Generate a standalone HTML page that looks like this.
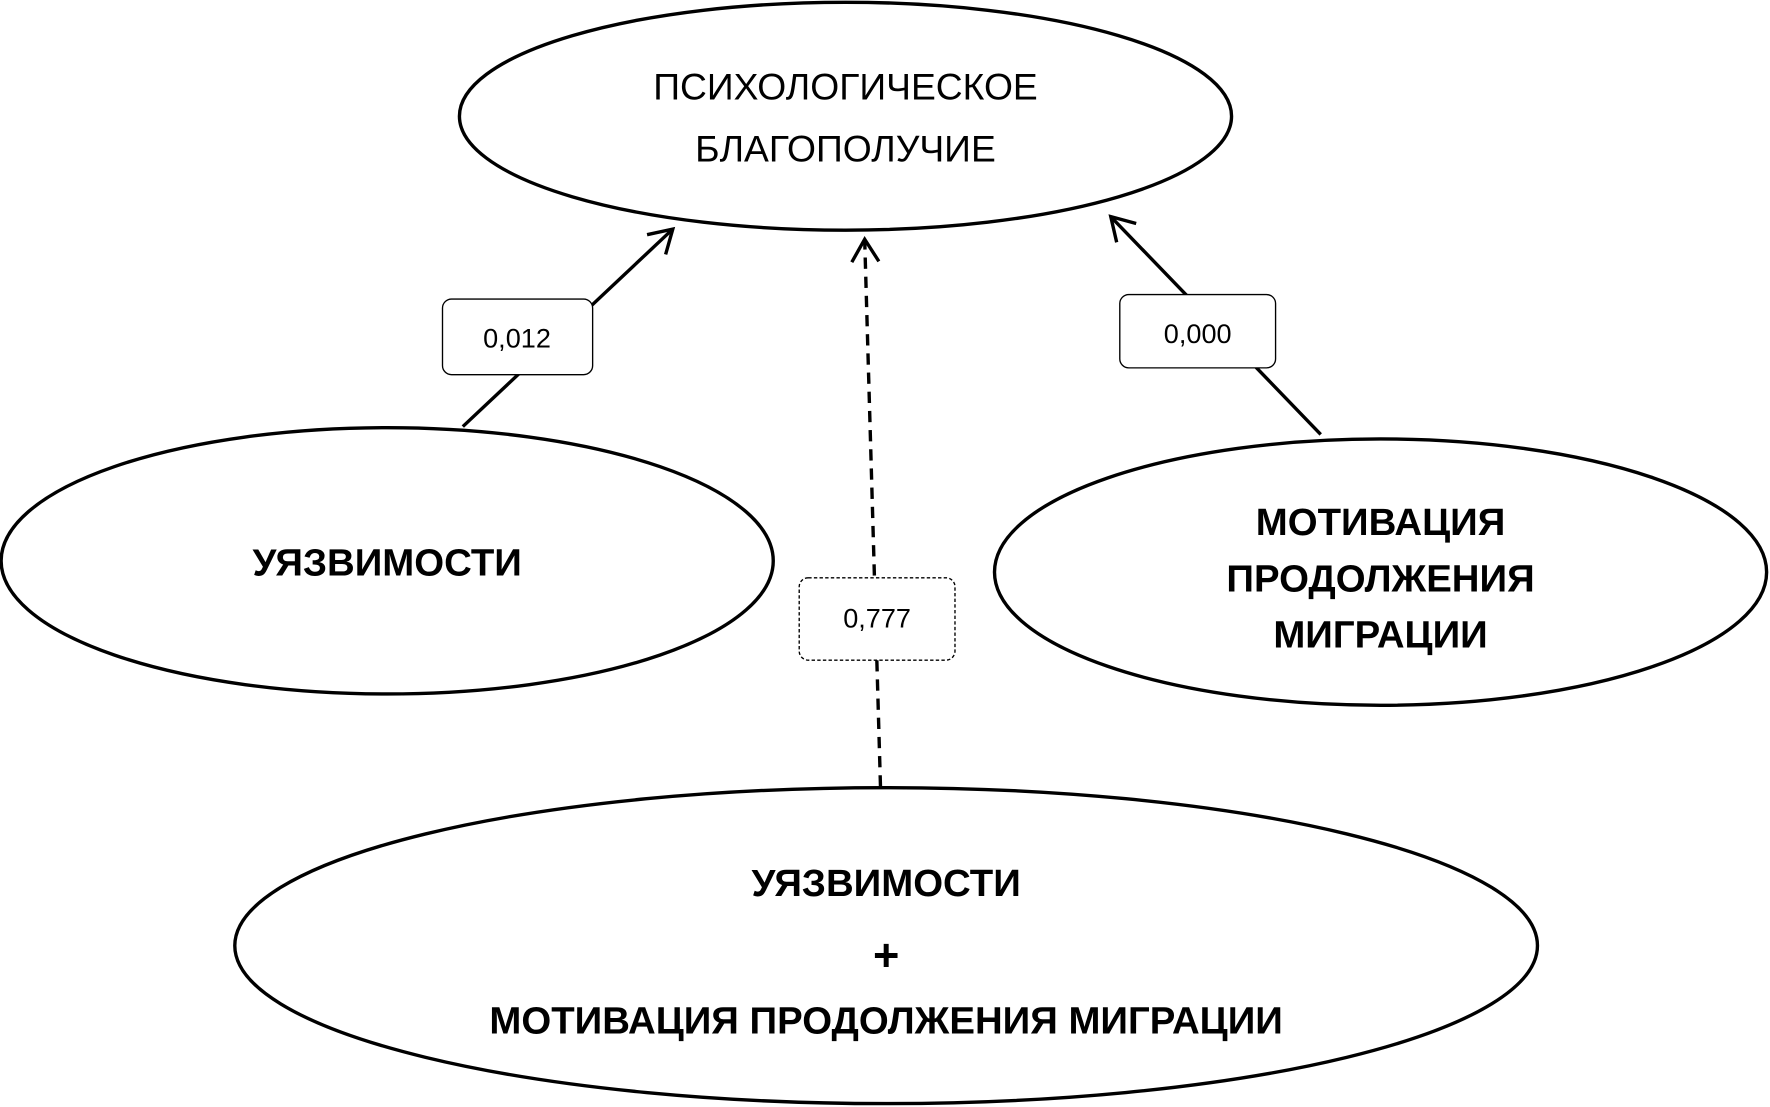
<!DOCTYPE html>
<html><head><meta charset="utf-8"><style>
html,body{margin:0;padding:0;background:#fff;}
svg{display:block;}
text{font-family:"Liberation Sans","DejaVu Sans",sans-serif;fill:#000;}
</style></head><body>
<svg width="1770" height="1107" viewBox="0 0 1568 981" preserveAspectRatio="none" xmlns="http://www.w3.org/2000/svg">
<defs>
<marker id="a" markerWidth="30" markerHeight="30" refX="22" refY="15" orient="auto" markerUnits="userSpaceOnUse">
<path d="M2,3 L22,15 L2,27" fill="none" stroke="#000" stroke-width="3"/>
</marker>
</defs>
<g fill="#fff" stroke="#000" stroke-width="3">
<ellipse cx="749" cy="103" rx="342" ry="101"/>
<ellipse cx="343" cy="497" rx="342" ry="118"/>
<ellipse cx="1223" cy="507" rx="342" ry="118"/>
<ellipse cx="785" cy="838" rx="577" ry="140"/>
</g>
<g stroke="#000" stroke-width="3" fill="none">
<line x1="410" y1="378" x2="596" y2="203" marker-end="url(#a)"/>
<line x1="1170" y1="385" x2="984" y2="192" marker-end="url(#a)"/>
<line x1="780" y1="697" x2="766" y2="212" stroke-dasharray="10,7" marker-end="url(#a)"/>
</g>
<rect x="392" y="265" width="133" height="67" rx="8" fill="#fff" stroke="#000" stroke-width="1.2"/>
<rect x="992" y="261" width="138" height="65" rx="8" fill="#fff" stroke="#000" stroke-width="1.2"/>
<rect x="708" y="512" width="138" height="73" rx="8" fill="#fff" stroke="#000" stroke-width="1.2" stroke-dasharray="3,2"/>
<g font-size="24" text-anchor="middle">
<text x="458" y="308">0,012</text>
<text x="1061" y="304">0,000</text>
<text x="777" y="556">0,777</text>
</g>
<g font-size="33" text-anchor="middle">
<text x="749" y="88">ПСИХОЛОГИЧЕСКОЕ</text>
<text x="749" y="143">БЛАГОПОЛУЧИЕ</text>
</g>
<g font-size="34" font-weight="bold" text-anchor="middle">
<text x="343" y="510">УЯЗВИМОСТИ</text>
<text x="1223" y="474">МОТИВАЦИЯ</text>
<text x="1223" y="524">ПРОДОЛЖЕНИЯ</text>
<text x="1223" y="574">МИГРАЦИИ</text>
<text x="785" y="794">УЯЗВИМОСТИ</text>
<text x="785" y="860" font-size="40">+</text>
<text x="785" y="916">МОТИВАЦИЯ ПРОДОЛЖЕНИЯ МИГРАЦИИ</text>
</g>
</svg>
</body></html>
